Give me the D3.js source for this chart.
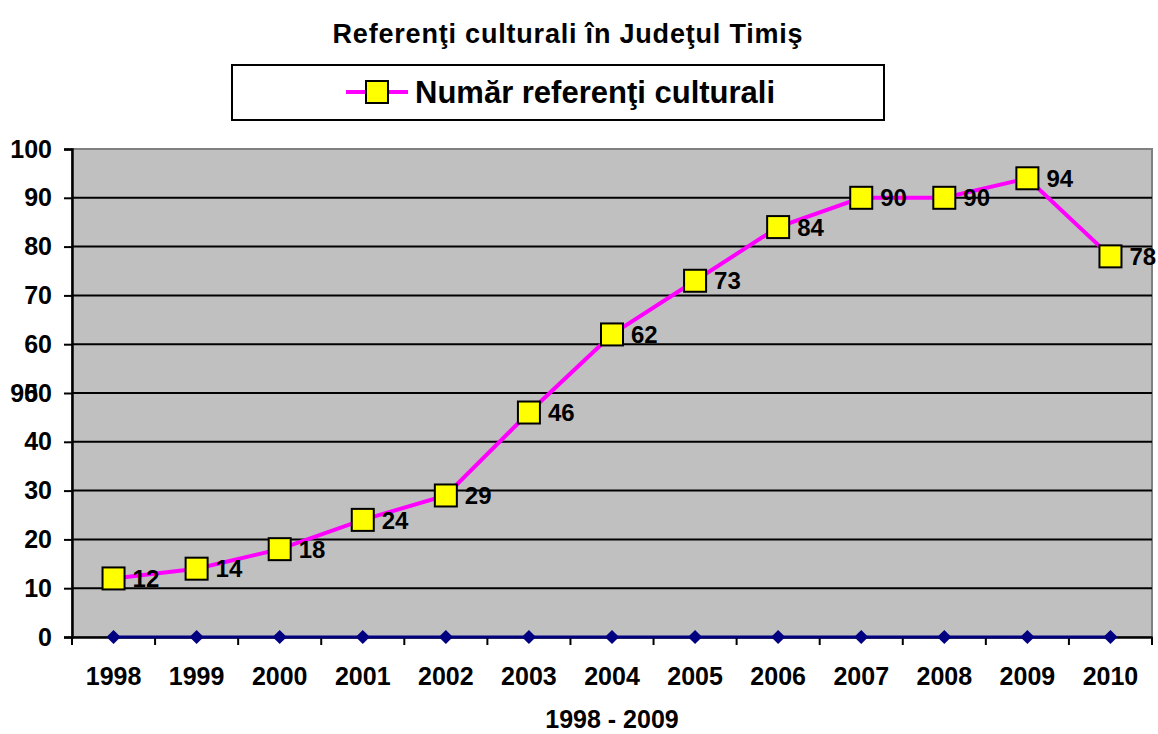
<!DOCTYPE html>
<html>
<head>
<meta charset="utf-8">
<script src="https://cdn.jsdelivr.net/npm/d3@7"></script>
<style>
  body { margin: 0; background: #fff; }
  text { font-family: "Liberation Sans", Arial, sans-serif; font-weight: bold; fill: #000; }
</style>
</head>
<body>
<div id="chart"></div>
<script>
var years = ["1998","1999","2000","2001","2002","2003","2004","2005","2006","2007","2008","2009","2010"];
var referenti = [12, 14, 18, 24, 29, 46, 62, 73, 84, 90, 90, 94, 78];
var baseSeries = [0, 0, 0, 0, 0, 0, 0, 0, 0, 0, 0, 0, 0];
var yTicks = [0, 10, 20, 30, 40, 50, 60, 70, 80, 90, 100];

var width = 1158,
    height = 734;

var plotLeft = 72, plotRight = 1152, plotTop = 149, plotBottom = 637;

var svg = d3.select("#chart")
    .append("svg")
    .attr("width", width)
    .attr("height", height);

var x = d3.scaleBand().domain(years).range([plotLeft, plotRight]);
var y = d3.scaleLinear().domain([0, 100]).range([plotBottom, plotTop]);

// title
svg.append("text")
    .attr("x", 568)
    .attr("y", 43)
    .attr("text-anchor", "middle")
    .style("font-size", "27px")
    .style("letter-spacing", "0.8px")
    .text("Referenţi culturali în Judeţul Timiş");

// legend
var legend = svg.append("g");
legend.append("rect")
    .attr("x", 232).attr("y", 65)
    .attr("width", 652).attr("height", 55)
    .attr("fill", "#fff").attr("stroke", "#000").attr("stroke-width", 2);
legend.append("line")
    .attr("x1", 346).attr("x2", 408).attr("y1", 92).attr("y2", 92)
    .attr("stroke", "#ff00ff").attr("stroke-width", 4);
legend.append("rect")
    .attr("x", 366).attr("y", 81).attr("width", 22).attr("height", 22)
    .attr("fill", "#ffff00").attr("stroke", "#000").attr("stroke-width", 2);
legend.append("text")
    .attr("x", 415).attr("y", 103)
    .style("font-size", "31px")
    .text("Număr referenţi culturali");

// plot area
svg.append("rect")
    .attr("x", plotLeft).attr("y", plotTop)
    .attr("width", plotRight - plotLeft).attr("height", plotBottom - plotTop)
    .attr("fill", "#c0c0c0")
    .attr("stroke", "#808080").attr("stroke-width", 2);

// gridlines
svg.append("g").selectAll("line")
    .data(yTicks.filter(function(d) { return d > 0 && d < 100; }))
    .enter().append("line")
    .attr("x1", plotLeft).attr("x2", plotRight)
    .attr("y1", function(d) { return y(d); })
    .attr("y2", function(d) { return y(d); })
    .attr("stroke", "#000").attr("stroke-width", 2);

// y axis
var yAxis = svg.append("g")
    .attr("transform", "translate(" + plotLeft + ",0)")
    .call(d3.axisLeft(y).tickValues(yTicks).tickSize(8).tickPadding(12));
yAxis.select(".domain").attr("stroke", "#000").attr("stroke-width", 2.5);
yAxis.selectAll(".tick line").attr("stroke", "#000").attr("stroke-width", 2);
yAxis.selectAll("text")
    .style("font-size", "25px")
    .style("font-family", "'Liberation Sans', Arial, sans-serif")
    .style("font-weight", "bold")
    .attr("fill", "#000");

// stray label over "50"
svg.append("text")
    .attr("x", 38).attr("y", y(50))
    .attr("dy", "0.35em")
    .attr("text-anchor", "end")
    .style("font-size", "25px")
    .text("90");

// x axis
var xAxis = svg.append("g")
    .attr("transform", "translate(0," + plotBottom + ")")
    .call(d3.axisBottom(x).tickSize(0).tickPadding(30));
xAxis.select(".domain").attr("stroke", "#000").attr("stroke-width", 2.5);
xAxis.selectAll("text")
    .style("font-size", "25px")
    .style("font-family", "'Liberation Sans', Arial, sans-serif")
    .style("font-weight", "bold")
    .attr("fill", "#000");

// tick marks at category boundaries
var edges = years.map(function(d) { return x(d); }).concat([plotRight]);
svg.append("g").selectAll("line")
    .data(edges)
    .enter().append("line")
    .attr("x1", function(d) { return d; })
    .attr("x2", function(d) { return d; })
    .attr("y1", plotBottom).attr("y2", plotBottom + 8)
    .attr("stroke", "#000").attr("stroke-width", 2);

// x axis title
svg.append("text")
    .attr("x", 612).attr("y", 728)
    .attr("text-anchor", "middle")
    .style("font-size", "25px")
    .text("1998 - 2009");

var cx = function(i) { return x(years[i]) + x.bandwidth() / 2; };

// baseline series (navy, diamonds)
var baseLine = d3.line()
    .x(function(d, i) { return cx(i); })
    .y(function(d) { return y(d); });
svg.append("path")
    .datum(baseSeries)
    .attr("d", baseLine)
    .attr("fill", "none")
    .attr("stroke", "#000080")
    .attr("stroke-width", 3);
svg.append("g").selectAll("path")
    .data(baseSeries)
    .enter().append("path")
    .attr("d", d3.symbol().type(d3.symbolSquare).size(100))
    .attr("transform", function(d, i) { return "translate(" + cx(i) + "," + y(d) + ") rotate(45)"; })
    .attr("fill", "#000080");

// main series
var line = d3.line()
    .x(function(d, i) { return cx(i); })
    .y(function(d) { return y(d); });
svg.append("path")
    .datum(referenti)
    .attr("d", line)
    .attr("fill", "none")
    .attr("stroke", "#ff00ff")
    .attr("stroke-width", 4);

svg.append("g").selectAll("rect")
    .data(referenti)
    .enter().append("rect")
    .attr("x", function(d, i) { return cx(i) - 11; })
    .attr("y", function(d) { return y(d) - 11; })
    .attr("width", 22).attr("height", 22)
    .attr("fill", "#ffff00")
    .attr("stroke", "#000")
    .attr("stroke-width", 2);

svg.append("g").selectAll("text")
    .data(referenti)
    .enter().append("text")
    .attr("x", function(d, i) { return cx(i) + 19; })
    .attr("y", function(d) { return y(d); })
    .attr("dy", "0.36em")
    .style("font-size", "24px")
    .text(function(d) { return d; });
</script>
</body>
</html>
